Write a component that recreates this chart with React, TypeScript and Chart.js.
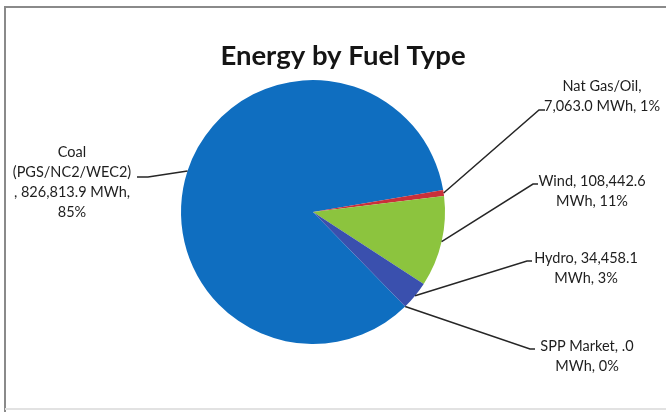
import React, { useEffect, useRef } from "react";
import { Chart, registerables } from "chart.js";

Chart.register(...registerables);

const chartTitle = "Energy by Fuel Type";
const categories = ["Coal (PGS/NC2/WEC2)", "Nat Gas/Oil", "Wind", "Hydro", "SPP Market"];
const energyMWh = [826813.9, 7063.0, 108442.6, 34458.1, 0];
const percentLabels = [85, 1, 11, 3, 0];
const unitLabel = "MWh";
const sliceColors = ["#0F6EC0", "#C9303A", "#8CC43E", "#3A50AE", "#5B8BD0"];

const fmt = (v: number) =>
  v === 0
    ? ".0"
    : v.toLocaleString("en-US", { minimumFractionDigits: 1, maximumFractionDigits: 1 });

const labelLines = (i: number): string[] => {
  const v = fmt(energyMWh[i]);
  const p = `${percentLabels[i]}%`;
  switch (i) {
    case 0:
      return ["Coal", "(PGS/NC2/WEC2)", `, ${v} ${unitLabel},`, p];
    case 1:
      return [`${categories[1]},`, `${v} ${unitLabel}, ${p}`];
    default:
      return [`${categories[i]}, ${v}`, `${unitLabel}, ${p}`];
  }
};

// label layout: centre x, first line centre y, leader elbow and end
const labelLayout = [
  { cx: 72, cy: 152, elbow: [148, 177], end: [137, 177] },
  { cx: 602, cy: 86, elbow: [539, 110], end: [545, 110] },
  { cx: 592, cy: 181, elbow: [533, 184], end: [538, 184] },
  { cx: 586, cy: 258, elbow: [527, 261], end: [532, 261] },
  { cx: 587, cy: 346, elbow: [530, 349], end: [535, 349] },
];

const framePlugin = {
  id: "frame",
  beforeDraw(chart: any) {
    const ctx = chart.ctx as CanvasRenderingContext2D;
    ctx.save();
    ctx.fillStyle = "#ffffff";
    ctx.fillRect(0, 0, chart.width, chart.height);
    ctx.strokeStyle = "#8a8a8a";
    ctx.lineWidth = 2;
    ctx.beginPath();
    ctx.moveTo(5, 412);
    ctx.lineTo(5, 7);
    ctx.lineTo(666, 7);
    ctx.stroke();
    ctx.strokeStyle = "#e2e2e2";
    ctx.lineWidth = 2;
    ctx.beginPath();
    ctx.moveTo(5, 409);
    ctx.lineTo(666, 409);
    ctx.stroke();
    ctx.restore();
  },
};

const labelPlugin = {
  id: "pieLabels",
  afterDraw(chart: any) {
    const ctx = chart.ctx as CanvasRenderingContext2D;
    const meta = chart.getDatasetMeta(0);
    ctx.save();
    // title
    ctx.fillStyle = "#151515";
    ctx.font = "bold 27.5px Lato, 'Open Sans', sans-serif";
    ctx.textAlign = "center";
    ctx.textBaseline = "middle";
    ctx.fillText(chartTitle, 343, 56);

    ctx.font = "14.5px Lato, 'Open Sans', sans-serif";
    meta.data.forEach((arc: any, i: number) => {
      const lay = labelLayout[i];
      const mid = (arc.startAngle + arc.endAngle) / 2;
      const px = arc.x + Math.cos(mid) * arc.outerRadius;
      const py = arc.y + Math.sin(mid) * arc.outerRadius;
      ctx.strokeStyle = "#262626";
      ctx.lineWidth = 1.5;
      ctx.beginPath();
      ctx.moveTo(px, py);
      ctx.lineTo(lay.elbow[0], lay.elbow[1]);
      ctx.lineTo(lay.end[0], lay.end[1]);
      ctx.stroke();
      ctx.fillStyle = "#1e1e1e";
      labelLines(i).forEach((ln, k) => {
        ctx.fillText(ln, lay.cx, lay.cy + k * 20);
      });
    });
    ctx.restore();
  },
};

export default function App() {
  const ref = useRef<HTMLCanvasElement>(null);
  useEffect(() => {
    const canvas = ref.current!;
    const chart = new Chart(canvas, {
      type: "pie",
      data: {
        labels: categories,
        datasets: [
          {
            data: energyMWh,
            backgroundColor: sliceColors,
            borderWidth: 0,
          },
        ],
      },
      options: {
        responsive: false,
        animation: false,
        rotation: 135.7,
        layout: { padding: { left: 181, right: 221, top: 80, bottom: 68 } },
        plugins: {
          legend: { display: false },
          tooltip: { enabled: false },
          title: { display: false },
        },
      },
      plugins: [framePlugin, labelPlugin],
    });
    return () => chart.destroy();
  }, []);
  return (
    <div style={{ position: "fixed", left: 0, top: 0, width: 666, height: 412, background: "#fff" }}>
      <canvas ref={ref} width={666} height={412} style={{ display: "block", width: 666, height: 412 }} />
    </div>
  );
}
